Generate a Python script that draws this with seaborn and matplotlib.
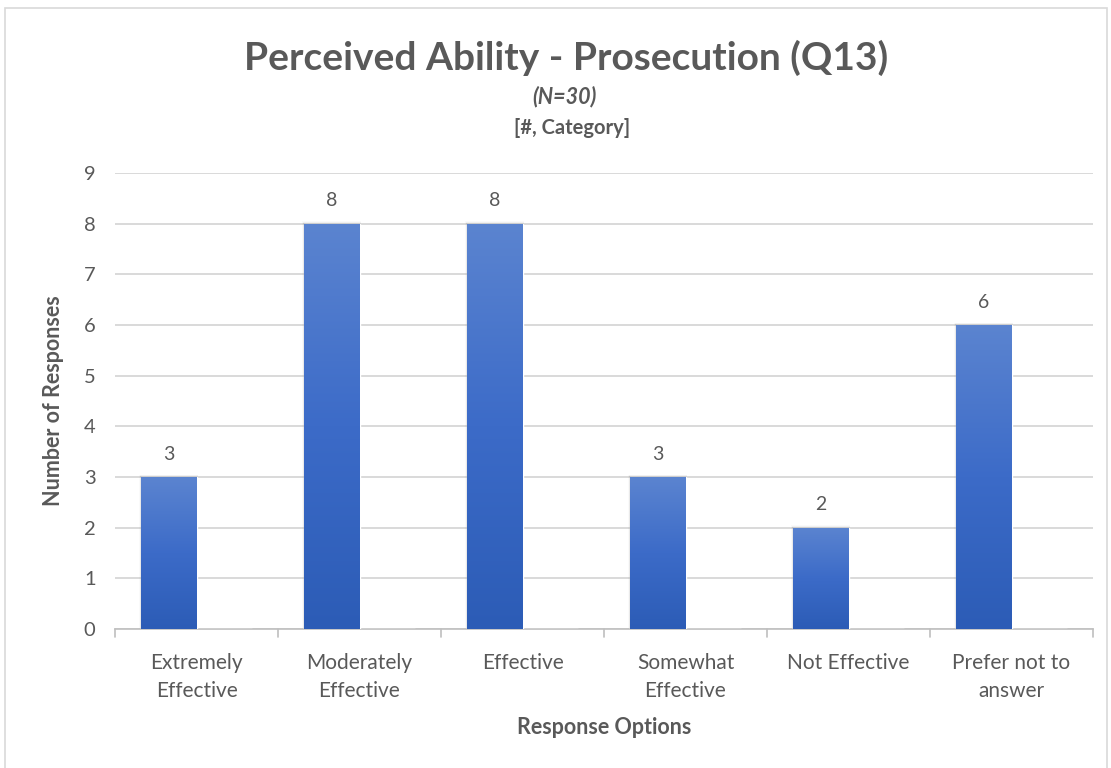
import numpy as np
import pandas as pd
import matplotlib
matplotlib.use("Agg")
import matplotlib.pyplot as plt
from matplotlib.colors import LinearSegmentedColormap
from matplotlib.patches import Rectangle
import seaborn as sns

categories = ["Extremely\nEffective", "Moderately\nEffective", "Effective",
              "Somewhat\nEffective", "Not Effective", "Prefer not to\nanswer"]
responses = [3, 8, 8, 3, 2, 6]
# second, empty series in the cluster (keeps the bars offset as in the workbook)
blank_series = [0, 0, 0, 0, 0, 0]
y_ticks = list(range(0, 10))

title = "Perceived Ability - Prosecution (Q13)"
subtitle = "(N=30)"
subtitle2 = "[#, Category]"
x_label = "Response Options"
y_label = "Number of Responses"

df = pd.DataFrame({
    "category": categories * 2,
    "responses": responses + blank_series,
    "series": ["Responses"] * len(categories) + ["Blank"] * len(categories),
})

sns.set_theme(style="white")
plt.rcParams["font.family"] = ["Lato", "DejaVu Sans"]

TEXT = "#595959"
GRID = "#D9D9D9"

fig = plt.figure(figsize=(11.11, 7.68), dpi=100)
fig.patch.set_facecolor("white")

# outer chart frame
fig.add_artist(Rectangle((5 / 1111, -0.01), 1102 / 1111, 1 - 8 / 768 + 0.01,
                         transform=fig.transFigure, fill=False,
                         edgecolor="#D9D9D9", linewidth=1.2))

ax = fig.add_axes([115 / 1111, 1 - 629 / 768, (1093 - 115) / 1111, (629 - 173) / 768])

sns.barplot(data=df, x="category", y="responses", hue="series",
            hue_order=["Responses", "Blank"], palette=["#4472C4", "#FFFFFF"],
            ax=ax, width=0.68, saturation=1, dodge=True, legend=False, zorder=3)

ax.set_ylim(0, 9)
ax.set_xlim(-0.5, len(categories) - 0.5)
ax.set_yticks(y_ticks)
ax.yaxis.grid(True, color=GRID, linewidth=1.4, zorder=0)
ax.set_axisbelow(True)

# vertical gradient fill on each bar
cmap = LinearSegmentedColormap.from_list("bar", ["#2C5CB6", "#3C6BC8", "#5B84D0"])
grad = np.linspace(0, 1, 256).reshape(-1, 1)
for p in list(ax.patches):
    x0, y0 = p.get_x(), p.get_y()
    w, h = p.get_width(), p.get_height()
    if not np.isfinite(h) or h <= 0:
        continue
    # soft shadow
    for k, a in enumerate([0.05, 0.035, 0.02]):
        ax.add_patch(Rectangle((x0 - 0.004 * (k + 1), y0), w + 0.008 * (k + 1),
                               h + 0.015 * (k + 1), facecolor="black", alpha=a,
                               edgecolor="none", zorder=2))
    im = ax.imshow(grad, extent=[x0, x0 + w, y0, y0 + h], origin="lower",
                   aspect="auto", cmap=cmap, zorder=4)
    im.set_clip_path(p)
    ax.text(x0 + w / 2, h + 0.28, f"{int(h)}", ha="center", va="bottom",
            fontsize=14, color=TEXT, zorder=5)

ax.set_xlim(-0.5, len(categories) - 0.5)
ax.set_ylim(0, 9)

for s in ["top", "right", "left"]:
    ax.spines[s].set_visible(False)
ax.spines["bottom"].set_color("#BFBFBF")
ax.spines["bottom"].set_linewidth(1.2)

ax.tick_params(axis="y", length=0, labelsize=14.5, labelcolor=TEXT, pad=14)
ax.tick_params(axis="x", length=0, labelsize=15, labelcolor=TEXT, pad=17)
for lbl in ax.get_xticklabels():
    lbl.set_linespacing(1.55)

# category separator ticks on the x axis
for b in np.arange(-0.5, len(categories) + 0.5, 1.0):
    ax.plot([b, b], [0, -0.16], color="#BFBFBF", linewidth=1.2, clip_on=False, zorder=3)

ax.set_xlabel(x_label, fontsize=15.5, fontweight="bold", color=TEXT, labelpad=11)
ax.set_ylabel(y_label, fontsize=15.5, fontweight="bold", color=TEXT, labelpad=14)

fig.text(566 / 1111, 1 - 58 / 768, title, ha="center", va="center",
         fontsize=28, fontweight="bold", color=TEXT)
fig.text(564 / 1111, 1 - 97 / 768, subtitle, ha="center", va="center",
         fontsize=15.5, fontweight="bold", fontstyle="italic", color=TEXT)
fig.text(572 / 1111, 1 - 128 / 768, subtitle2, ha="center", va="center",
         fontsize=14.5, fontweight="bold", color=TEXT)

fig.savefig("out.png", dpi=100, facecolor="white")
